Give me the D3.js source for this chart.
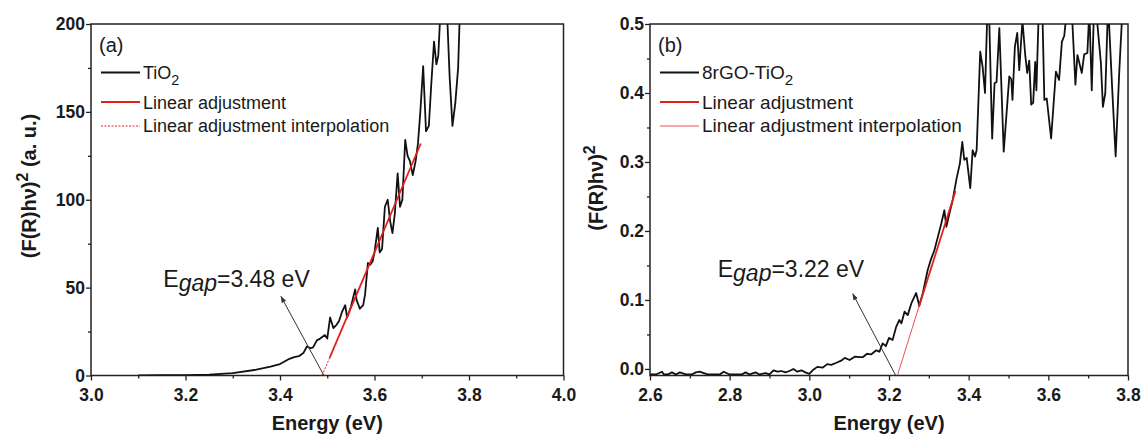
<!DOCTYPE html>
<html>
<head>
<meta charset="utf-8">
<script src="https://cdn.jsdelivr.net/npm/d3@7"></script>
<style>
  body { margin: 0; background: #fff; }
  svg { display: block; }
  .axis .tick text { font-family: "Liberation Sans", Arial, sans-serif; font-weight: bold; font-size: 17.5px; fill: #1a1a1a; }
  .axis path { display: none; }
  .axis line { stroke: #222; stroke-width: 1.3; }
  .title { font-family: "Liberation Sans", Arial, sans-serif; font-weight: bold; font-size: 20px; fill: #1a1a1a; }
  .legend { font-family: "Liberation Sans", Arial, sans-serif; fill: #1a1a1a; }
  .note { font-family: "Liberation Sans", Arial, sans-serif; font-size: 23px; fill: #1a1a1a; }
</style>
</head>
<body>
<svg id="chart" width="1143" height="436"></svg>
<script>
// (a) TiO2 spectrum
const tio2Energy = [3.10, 3.15, 3.20, 3.25, 3.30, 3.35, 3.38, 3.40, 3.42, 3.43,
  3.44, 3.45, 3.457, 3.465, 3.47, 3.478, 3.485, 3.49, 3.495, 3.50,
  3.506, 3.513, 3.52, 3.525, 3.531, 3.538, 3.542, 3.55, 3.559, 3.562,
  3.569, 3.576, 3.58, 3.586, 3.591, 3.596, 3.60, 3.607, 3.611, 3.616,
  3.622, 3.628, 3.633, 3.638, 3.643, 3.649, 3.654, 3.659, 3.665, 3.67,
  3.675, 3.681, 3.687, 3.692, 3.697, 3.703, 3.709, 3.715, 3.72, 3.726,
  3.731, 3.735, 3.74, 3.747, 3.753, 3.759, 3.765, 3.771, 3.777, 3.781];
const tio2Signal = [0.1, 0.15, 0.25, 0.5, 1.3, 3.3, 5, 6.5, 9.5, 10.5,
  11, 13, 16.5, 15.5, 16, 20, 21, 22, 23, 21,
  33, 27, 29, 31, 36, 40, 33, 39, 49, 43,
  38, 40, 46, 64, 63, 65, 70, 84, 70, 72,
  96, 100, 88, 81, 92, 115, 96, 100, 134, 125,
  122, 114, 122, 132, 150, 176, 139, 142, 165, 190,
  177, 182, 210, 215, 210, 170, 142, 155, 175, 210];
const tio2Fit = [[3.505, 10], [3.698, 132]];
const tio2Interp = [[3.489, 0], [3.505, 10]];
const tio2Arrow = [[3.493, 0], [3.402, 45]];

// (b) 8rGO-TiO2 spectrum
const rgoEnergy = [2.600, 2.615, 2.630, 2.635, 2.645, 2.655, 2.665, 2.675, 2.690, 2.705,
  2.715, 2.725, 2.735, 2.745, 2.760, 2.775, 2.785, 2.800, 2.815, 2.830,
  2.840, 2.850, 2.865, 2.875, 2.890, 2.900, 2.910, 2.920, 2.930, 2.940,
  2.950, 2.960, 2.970, 2.980, 2.990, 3.000, 3.010, 3.020, 3.034, 3.045,
  3.055, 3.068, 3.080, 3.089, 3.101, 3.115, 3.125, 3.134, 3.145, 3.155,
  3.168, 3.176, 3.184, 3.192, 3.200, 3.209, 3.218, 3.226, 3.231, 3.239,
  3.247, 3.256, 3.268, 3.276, 3.285, 3.297, 3.306, 3.314, 3.322, 3.331,
  3.339, 3.344, 3.352, 3.360, 3.369, 3.378, 3.384, 3.389, 3.395, 3.404,
  3.410, 3.416, 3.420, 3.429, 3.435, 3.441, 3.447, 3.452, 3.459, 3.465,
  3.470, 3.477, 3.488, 3.502, 3.507, 3.510, 3.516, 3.522, 3.527, 3.535,
  3.542, 3.547, 3.552, 3.557, 3.562, 3.567, 3.570, 3.575, 3.580, 3.585,
  3.590, 3.596, 3.607, 3.619, 3.627, 3.634, 3.640, 3.648, 3.658, 3.668,
  3.673, 3.684, 3.690, 3.698, 3.703, 3.709, 3.715, 3.720, 3.732, 3.737,
  3.743, 3.750, 3.760, 3.769, 3.778, 3.786, 3.792];
const rgoSignal = [-0.008, -0.008, -0.004, -0.008, -0.008, -0.005, -0.008, -0.005, -0.008, -0.008,
  -0.005, -0.004, -0.006, -0.008, -0.008, -0.008, -0.004, -0.008, -0.008, -0.008,
  -0.005, -0.008, -0.005, -0.008, -0.006, -0.008, -0.002, -0.004, -0.003, -0.005,
  -0.003, 0.0, -0.004, -0.002, -0.005, -0.007, -0.001, 0.003, 0.002, 0.007,
  0.006, 0.009, 0.012, 0.016, 0.013, 0.018, 0.017, 0.017, 0.022, 0.021,
  0.027, 0.025, 0.037, 0.033, 0.045, 0.042, 0.061, 0.071, 0.066, 0.083,
  0.078, 0.095, 0.11, 0.092, 0.11, 0.143, 0.16, 0.172, 0.19, 0.21,
  0.23, 0.206, 0.226, 0.245, 0.274, 0.298, 0.329, 0.303, 0.306, 0.262,
  0.317, 0.308, 0.317, 0.46, 0.438, 0.40, 0.52, 0.50, 0.334, 0.414,
  0.416, 0.494, 0.315, 0.424, 0.42, 0.39, 0.467, 0.487, 0.433, 0.505,
  0.455, 0.429, 0.447, 0.383, 0.386, 0.445, 0.404, 0.50, 0.53, 0.52,
  0.39, 0.392, 0.334, 0.431, 0.419, 0.474, 0.483, 0.53, 0.53, 0.412,
  0.455, 0.429, 0.456, 0.458, 0.52, 0.404, 0.53, 0.52, 0.443, 0.38,
  0.40, 0.53, 0.41, 0.308, 0.43, 0.52, 0.53];
const rgoFit = [[3.275, 0.09], [3.367, 0.258]];
const rgoInterp = [[3.221, -0.0095], [3.275, 0.09]];
const rgoArrow = [[3.217, -0.0095], [3.109, 0.109]];

// ticks
const xTicksA = [3.0, 3.2, 3.4, 3.6, 3.8, 4.0];
const xMinorA = [3.1, 3.3, 3.5, 3.7, 3.9];
const yTicksA = [0, 50, 100, 150, 200];
const yMinorA = [25, 75, 125, 175];
const xTicksB = [2.6, 2.8, 3.0, 3.2, 3.4, 3.6, 3.8];
const xMinorB = [2.7, 2.9, 3.1, 3.3, 3.5, 3.7];
const yTicksB = [0.0, 0.1, 0.2, 0.3, 0.4, 0.5];
const yMinorB = [0.05, 0.15, 0.25, 0.35, 0.45];

const RED = '#e3201c';
const svg = d3.select('#chart');

svg.append('defs').append('marker')
  .attr('id', 'arrowhead')
  .attr('viewBox', '0 0 10 10')
  .attr('refX', 9).attr('refY', 5)
  .attr('markerWidth', 7).attr('markerHeight', 7)
  .attr('orient', 'auto')
  .append('path')
  .attr('d', 'M0,1.5 L10,5 L0,8.5 Z')
  .attr('fill', '#333');

function drawPanel(p) {
  const x = d3.scaleLinear().domain(p.xDomain).range([p.left, p.right]);
  const y = d3.scaleLinear().domain(p.yDomain).range([p.bottom, p.top]);
  const g = svg.append('g');

  g.append('clipPath').attr('id', 'clip-' + p.id)
    .append('rect')
    .attr('x', p.left).attr('y', p.top)
    .attr('width', p.right - p.left).attr('height', p.bottom - p.top);

  // axes: major + minor ticks
  g.append('g').attr('class', 'axis')
    .attr('transform', `translate(0,${p.bottom})`)
    .call(d3.axisBottom(x).tickValues(p.xTicks).tickSize(5).tickPadding(8).tickFormat(d3.format('.1f')));
  g.append('g').attr('class', 'axis')
    .attr('transform', `translate(0,${p.bottom})`)
    .call(d3.axisBottom(x).tickValues(p.xMinor).tickSize(3).tickFormat(''));
  g.append('g').attr('class', 'axis')
    .attr('transform', `translate(${p.left},0)`)
    .call(d3.axisLeft(y).tickValues(p.yTicks).tickSize(5).tickPadding(1).tickFormat(p.yFormat));
  g.append('g').attr('class', 'axis')
    .attr('transform', `translate(${p.left},0)`)
    .call(d3.axisLeft(y).tickValues(p.yMinor).tickSize(3).tickFormat(''));

  g.append('rect')
    .attr('x', p.left).attr('y', p.top)
    .attr('width', p.right - p.left).attr('height', p.bottom - p.top)
    .attr('fill', 'none').attr('stroke', '#222').attr('stroke-width', 1.5);

  const line = d3.line().x(d => x(d[0])).y(d => y(d[1]));
  const plot = g.append('g').attr('clip-path', `url(#clip-${p.id})`);

  plot.append('path').datum(d3.zip(p.energy, p.signal))
    .attr('d', line).attr('fill', 'none')
    .attr('stroke', '#111').attr('stroke-width', 1.8).attr('stroke-linejoin', 'round');
  plot.append('path').datum(p.interp)
    .attr('d', line).attr('fill', 'none')
    .attr('stroke', p.interpColor).attr('stroke-width', p.interpWidth)
    .attr('stroke-dasharray', p.interpDash);
  plot.append('path').datum(p.fit)
    .attr('d', line).attr('fill', 'none')
    .attr('stroke', RED).attr('stroke-width', 1.8);

  // annotation arrow
  g.append('path').datum(p.arrow)
    .attr('d', line).attr('fill', 'none')
    .attr('stroke', '#333').attr('stroke-width', 1)
    .attr('marker-end', 'url(#arrowhead)');

  const note = g.append('text').attr('class', 'note')
    .attr('x', x(p.notePos[0])).attr('y', y(p.notePos[1]));
  note.append('tspan').text('E');
  note.append('tspan').attr('font-style', 'italic').attr('dy', 4).text('gap');
  note.append('tspan').attr('dy', -4).text(p.noteText);

  // axis titles
  g.append('text').attr('class', 'title')
    .attr('x', (p.left + p.right) / 2).attr('y', 430)
    .attr('text-anchor', 'middle').text('Energy (eV)');

  const yt = g.append('text').attr('class', 'title')
    .attr('transform', `translate(${p.yTitleX},${p.yTitleY}) rotate(-90)`)
    .attr('text-anchor', 'middle');
  yt.append('tspan').text('(F(R)h\u03bd)');
  yt.append('tspan').attr('dy', -8).attr('font-size', 16).text('2');
  if (p.yUnit) yt.append('tspan').attr('dy', 8).text(p.yUnit);

  // legend
  const lg = g.append('g').attr('class', 'legend').attr('font-size', p.legendSize);
  lg.append('text').attr('x', p.left + 8).attr('y', 52).attr('font-size', 20).text(p.tag);
  const lx0 = p.left + 10, lx1 = p.left + 49, tx = p.left + 52;
  lg.append('line').attr('x1', lx0).attr('x2', lx1).attr('y1', 72.5).attr('y2', 72.5)
    .attr('stroke', '#111').attr('stroke-width', 1.8);
  const t1 = lg.append('text').attr('x', tx).attr('y', 79);
  t1.append('tspan').text(p.seriesName);
  t1.append('tspan').attr('dy', 6).attr('font-size', p.legendSize * 0.8).text('2');
  lg.append('line').attr('x1', lx0).attr('x2', lx1).attr('y1', 102).attr('y2', 102)
    .attr('stroke', RED).attr('stroke-width', 2);
  lg.append('text').attr('x', tx).attr('y', 109).text('Linear adjustment');
  lg.append('line').attr('x1', lx0).attr('x2', lx1).attr('y1', 126).attr('y2', 126)
    .attr('stroke', p.interpColor).attr('stroke-width', p.interpWidth)
    .attr('stroke-dasharray', p.interpDash);
  lg.append('text').attr('x', tx).attr('y', 132).text('Linear adjustment interpolation');
}

drawPanel({
  id: 'a', tag: '(a)', seriesName: 'TiO', legendSize: 18,
  left: 91, right: 563.5, top: 24, bottom: 375.5,
  xDomain: [3.0, 4.0], yDomain: [0, 200],
  xTicks: xTicksA, xMinor: xMinorA, yTicks: yTicksA, yMinor: yMinorA,
  yFormat: d3.format('d'),
  energy: tio2Energy, signal: tio2Signal,
  fit: tio2Fit, interp: tio2Interp, arrow: tio2Arrow,
  interpColor: RED, interpWidth: 1, interpDash: '2,1.5',
  notePos: [3.153, 50.5], noteText: '=3.48 eV',
  yTitleX: 36, yTitleY: 186, yUnit: ' (a. u.)'
});

drawPanel({
  id: 'b', tag: '(b)', seriesName: '8rGO-TiO', legendSize: 19,
  left: 650, right: 1128, top: 24, bottom: 375.5,
  xDomain: [2.6, 3.8], yDomain: [-0.0095, 0.5],
  xTicks: xTicksB, xMinor: xMinorB, yTicks: yTicksB, yMinor: yMinorB,
  yFormat: d3.format('.1f'),
  energy: rgoEnergy, signal: rgoSignal,
  fit: rgoFit, interp: rgoInterp, arrow: rgoArrow,
  interpColor: '#f05050', interpWidth: 1, interpDash: null,
  notePos: [2.770, 0.133], noteText: '=3.22 eV',
  yTitleX: 603, yTitleY: 188, yUnit: null
});
</script>
</body>
</html>
